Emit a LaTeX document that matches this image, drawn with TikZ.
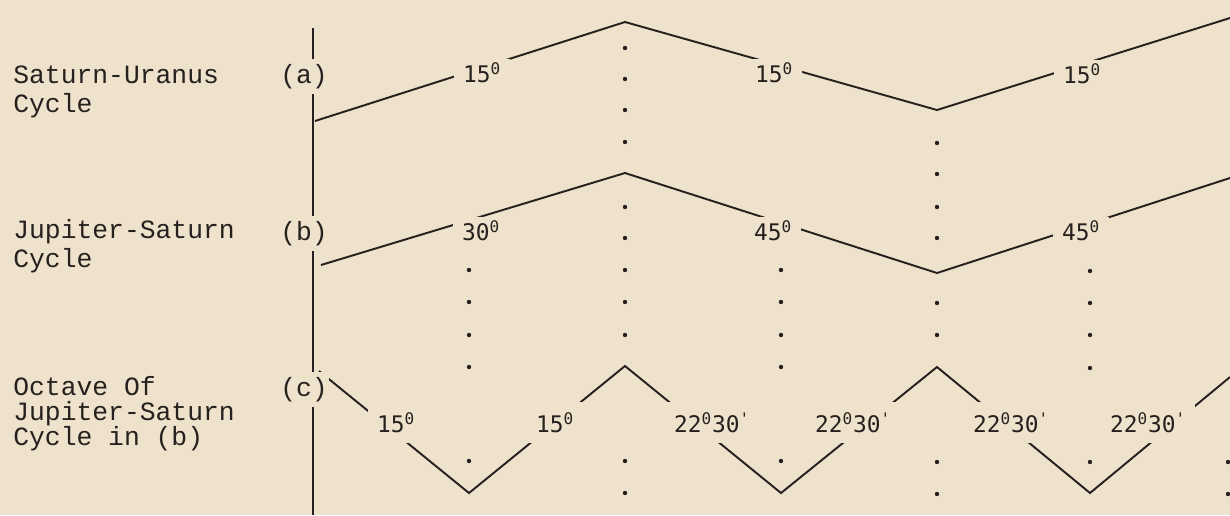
\documentclass[tikz,border=0pt]{standalone}
\usepackage{fontspec}
\setmonofont{Liberation Mono}
\newfontfamily\numfont{DejaVu Sans Mono}
\definecolor{cyclePaper}{RGB}{238,226,204}
\definecolor{cycleInk}{RGB}{38,33,30}
\newcommand{\dg}{\textsuperscript{0}}
\newcommand{\mn}{\textsuperscript{'}}

\begin{document}
\begin{tikzpicture}[
  x=0.02cm, y=-0.02cm,
  ink/.style={draw=cycleInk, line width=1.1pt},
  side/.style={font=\ttfamily\fontsize{15}{16.5}\selectfont, text=cycleInk,
               align=left, anchor=base west, inner sep=0pt},
  tag/.style={font=\ttfamily\fontsize{15}{16}\selectfont, text=cycleInk,
              fill=cyclePaper, anchor=base, inner xsep=1pt, inner ysep=3pt},
  deg/.style={font=\numfont\fontsize{13}{14}\selectfont, text=cycleInk,
              fill=cyclePaper, anchor=base, inner xsep=5pt, inner ysep=2pt},
  degc/.style={deg, inner ysep=6pt}
]
  \useasboundingbox (0,0) rectangle (1230,515);
  \clip (0,0) rectangle (1230,515);
  \fill[cyclePaper] (0,0) rectangle (1230,515);

  % axis and the three cycles
  \coordinate (axtop) at (313,28);
  \coordinate (axbot) at (313,515);
  \coordinate (sa0) at (315,121);
  \coordinate (sa1) at (625,22);
  \coordinate (sa2) at (937,110);
  \coordinate (sa3) at (1230,18);
  \coordinate (sb0) at (321,265);
  \coordinate (sb1) at (625,173);
  \coordinate (sb2) at (937,273);
  \coordinate (sb3) at (1230,178);
  \coordinate (sc0) at (319,371);
  \coordinate (sc1) at (469,493);
  \coordinate (sc2) at (625,366);
  \coordinate (sc3) at (781,493);
  \coordinate (sc4) at (937,367);
  \coordinate (sc5) at (1090,493);
  \coordinate (sc6) at (1230,377);

  \draw[ink] (axtop) -- (axbot);
  \draw[ink] (sa0) -- (sa1) -- (sa2) -- (sa3);
  \draw[ink] (sb0) -- (sb1) -- (sb2) -- (sb3);
  \draw[ink] (sc0) -- (sc1) -- (sc2) -- (sc3) -- (sc4) -- (sc5) -- (sc6);

  % dotted columns
  \foreach \x/\ys in {625/{48,79,110,142,207,238,270,302,335,461,493},
                      937/{143,174,207,238,303,335,462,494},
                      469/{270,302,335,367,461},
                      781/{270,302,335,367,461},
                      1090/{271,303,335,368,462},
                      1228/{462,494}}
    \foreach \y in \ys
      \fill[cycleInk] (\x,\y) circle (1.25pt);

  % left hand titles (base = last line)
  \node[side] (sulab) at (13,112) {Saturn-Uranus\\Cycle};
  \node[side] (jslab) at (13,267) {Jupiter-Saturn\\Cycle};
  \node[side, font=\ttfamily\fontsize{15}{14.2}\selectfont] (oclab) at (13,445)
       {Octave Of\\Jupiter-Saturn\\Cycle in (b)};
  \node[tag] (taga) at (304,83) {(a)};
  \node[tag] (tagb) at (304,240) {(b)};
  \node[tag] (tagc) at (304,396) {(c)};

  % angles
  \node[deg] (a1) at (482,82) {15\dg};
  \node[deg] (a2) at (774,82) {15\dg};
  \node[deg] (a3) at (1082,83) {15\dg};
  \node[deg] (b1) at (481,240) {30\dg};
  \node[deg] (b2) at (773,240) {45\dg};
  \node[deg] (b3) at (1081,240) {45\dg};
  \node[degc] (c1) at (396,432) {15\dg};
  \node[degc] (c2) at (555,432) {15\dg};
  \node[degc] (c3) at (712,432) {22\dg30\mn};
  \node[degc] (c4) at (853,432) {22\dg30\mn};
  \node[degc] (c5) at (1011,432) {22\dg30\mn};
  \node[degc] (c6) at (1148,432) {22\dg30\mn};
\end{tikzpicture}
\end{document}
